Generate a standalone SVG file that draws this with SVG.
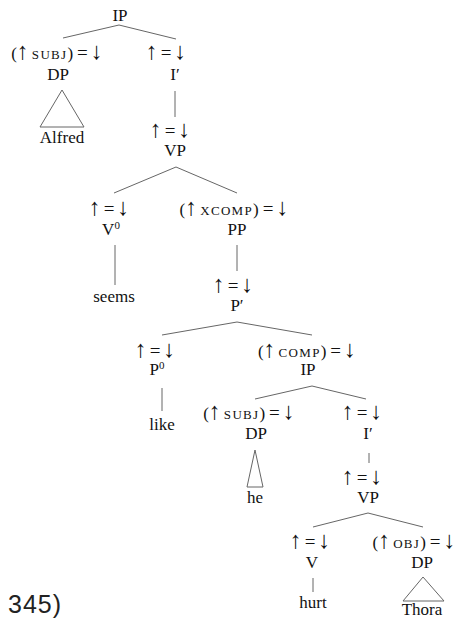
<svg xmlns="http://www.w3.org/2000/svg" width="461" height="619" viewBox="0 0 461 619">
<style>
text{font-family:"Liberation Serif","Times New Roman",serif;font-size:17px;fill:#111;text-anchor:middle}
.sc{font-size:13px;letter-spacing:1.3px}
.ar{font-size:24px}
.eq{font-size:19px}
.sup{font-size:11px}
.num{font-family:"Liberation Sans",Arial,sans-serif;font-size:25px;text-anchor:start;fill:#222;letter-spacing:1px}
.e line,.e polyline,.e polygon{stroke:#666;stroke-width:1;fill:none}
</style>
<rect width="461" height="619" fill="#fff"/>
<g id="edges" class="e">
<polyline points="63,38 119,25 176,39"/>
<polygon points="62,90 40,127 84,127"/>
<line x1="175" y1="91" x2="175" y2="117"/>
<polyline points="114,193 176,167 237,193"/>
<line x1="115" y1="245" x2="115" y2="285"/>
<line x1="237" y1="245" x2="237" y2="271"/>
<polyline points="162,335 237,322 312,335"/>
<line x1="162" y1="388" x2="162" y2="411"/>
<polyline points="255,399 312,386 366,399"/>
<polygon points="255,450 247,487 263,487"/>
<line x1="369" y1="453" x2="369" y2="463"/>
<polyline points="313,527 368,513 423,527"/>
<line x1="313" y1="578" x2="313" y2="592"/>
<polygon points="423,577 403,601 444,601"/>
</g>
<g id="ip1"><text x="120" y="21">IP</text></g>
<g id="dp1"><text x="57" y="59">(<tspan class="ar">↑</tspan><tspan class="sc" dx="3">SUBJ</tspan>)<tspan class="eq" dx="4">=</tspan><tspan class="ar" dx="3">↓</tspan></text><text x="58" y="80">DP</text></g>
<g id="alfred"><text x="62" y="143">Alfred</text></g>
<g id="ibar1"><text x="166" y="59"><tspan class="ar">↑</tspan><tspan class="eq" dx="3">=</tspan><tspan class="ar" dx="3">↓</tspan></text><text x="175" y="80">I′</text></g>
<g id="vp1"><text x="170" y="137"><tspan class="ar">↑</tspan><tspan class="eq" dx="3">=</tspan><tspan class="ar" dx="3">↓</tspan></text><text x="175" y="156">VP</text></g>
<g id="v0"><text x="109" y="215"><tspan class="ar">↑</tspan><tspan class="eq" dx="3">=</tspan><tspan class="ar" dx="3">↓</tspan></text><text x="111" y="235">V<tspan class="sup" dy="-6">0</tspan></text></g>
<g id="seems"><text x="114" y="302">seems</text></g>
<g id="pp"><text x="234" y="215">(<tspan class="ar">↑</tspan><tspan class="sc" dx="3">XCOMP</tspan>)<tspan class="eq" dx="4">=</tspan><tspan class="ar" dx="3">↓</tspan></text><text x="237" y="235">PP</text></g>
<g id="pbar"><text x="233" y="292"><tspan class="ar">↑</tspan><tspan class="eq" dx="3">=</tspan><tspan class="ar" dx="3">↓</tspan></text><text x="237" y="311">P′</text></g>
<g id="p0"><text x="155" y="357"><tspan class="ar">↑</tspan><tspan class="eq" dx="3">=</tspan><tspan class="ar" dx="3">↓</tspan></text><text x="157" y="375">P<tspan class="sup" dy="-6">0</tspan></text></g>
<g id="like"><text x="162" y="430">like</text></g>
<g id="ip2"><text x="307" y="357">(<tspan class="ar">↑</tspan><tspan class="sc" dx="3">COMP</tspan>)<tspan class="eq" dx="4">=</tspan><tspan class="ar" dx="3">↓</tspan></text><text x="308" y="375">IP</text></g>
<g id="dp2"><text x="249" y="419">(<tspan class="ar">↑</tspan><tspan class="sc" dx="3">SUBJ</tspan>)<tspan class="eq" dx="4">=</tspan><tspan class="ar" dx="3">↓</tspan></text><text x="256" y="439">DP</text></g>
<g id="he"><text x="255" y="503">he</text></g>
<g id="ibar2"><text x="362" y="419"><tspan class="ar">↑</tspan><tspan class="eq" dx="3">=</tspan><tspan class="ar" dx="3">↓</tspan></text><text x="368" y="439">I′</text></g>
<g id="vp2"><text x="362" y="484"><tspan class="ar">↑</tspan><tspan class="eq" dx="3">=</tspan><tspan class="ar" dx="3">↓</tspan></text><text x="368" y="503">VP</text></g>
<g id="v"><text x="310" y="548"><tspan class="ar">↑</tspan><tspan class="eq" dx="3">=</tspan><tspan class="ar" dx="3">↓</tspan></text><text x="312" y="568">V</text></g>
<g id="hurt"><text x="313" y="608">hurt</text></g>
<g id="dp3"><text x="414" y="548">(<tspan class="ar">↑</tspan><tspan class="sc" dx="3">OBJ</tspan>)<tspan class="eq" dx="4">=</tspan><tspan class="ar" dx="3">↓</tspan></text><text x="422" y="568">DP</text></g>
<g id="thora"><text x="422" y="615">Thora</text></g>
<g id="label"><text class="num" x="8" y="613">345)</text></g>
</svg>
